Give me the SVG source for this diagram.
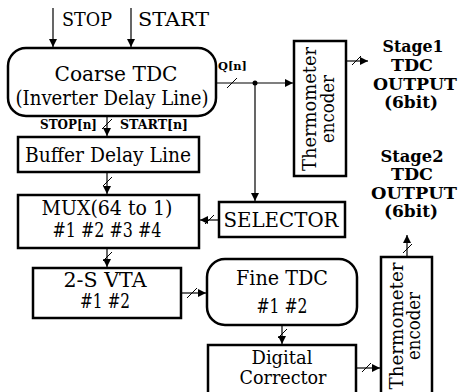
<svg xmlns="http://www.w3.org/2000/svg" width="462" height="392" viewBox="0 0 462 392">
<style>
.box{fill:#fff;stroke:#000;stroke-width:2.5}
.ln{stroke:#000;stroke-width:1.2;fill:none}
.sl{stroke:#000;stroke-width:1;fill:none}
</style>
<defs>
<marker id="ah" viewBox="0 0 10 10" refX="10" refY="5" markerWidth="8" markerHeight="8" markerUnits="userSpaceOnUse" orient="auto">
<path d="M0,0 L10,5 L0,10 Z" fill="#000"/>
</marker>
</defs>
<rect width="462" height="392" fill="#fff"/>
<g id="connectors">
<line class="ln" x1="53" y1="8" x2="53" y2="47" marker-end="url(#ah)"/>
<line class="ln" x1="131" y1="8" x2="131" y2="47" marker-end="url(#ah)"/>
<line class="ln" x1="107" y1="116" x2="107" y2="136" marker-end="url(#ah)"/>
<line class="sl" x1="102" y1="129" x2="112" y2="119"/>
<line class="ln" x1="107" y1="172" x2="107" y2="194" marker-end="url(#ah)"/>
<line class="sl" x1="103" y1="186" x2="112" y2="177"/>
<line class="ln" x1="107" y1="248" x2="107" y2="267" marker-end="url(#ah)"/>
<line class="sl" x1="103" y1="261" x2="112" y2="252"/>
<line class="ln" x1="216" y1="83" x2="293" y2="83" marker-end="url(#ah)"/>
<line class="sl" x1="227" y1="88" x2="237" y2="78"/>
<circle cx="255" cy="83" r="2.5" fill="#000"/>
<line class="ln" x1="255" y1="83" x2="255" y2="201" marker-end="url(#ah)"/>
<line class="ln" x1="219" y1="220" x2="200" y2="220" marker-end="url(#ah)"/>
<line class="sl" x1="205" y1="224" x2="214" y2="215"/>
<line class="ln" x1="346" y1="61" x2="368" y2="61" marker-end="url(#ah)"/>
<line class="sl" x1="352" y1="65" x2="361" y2="56"/>
<line class="ln" x1="181" y1="293" x2="206" y2="293" marker-end="url(#ah)"/>
<line class="sl" x1="187" y1="298" x2="197" y2="288"/>
<line class="ln" x1="282" y1="325" x2="282" y2="344" marker-end="url(#ah)"/>
<line class="sl" x1="278" y1="338" x2="287" y2="329"/>
<line class="ln" x1="356" y1="368" x2="380" y2="368" marker-end="url(#ah)"/>
<line class="sl" x1="362" y1="372" x2="371" y2="363"/>
<line class="ln" x1="407" y1="257" x2="407" y2="235" marker-end="url(#ah)"/>
<line class="sl" x1="403" y1="253" x2="412" y2="244"/>
</g>
<g id="inputs" font-family="'DejaVu Serif', serif" font-size="19">
<text x="62" y="26" textLength="50" lengthAdjust="spacingAndGlyphs">STOP</text>
<text x="138" y="26" textLength="71" lengthAdjust="spacingAndGlyphs">START</text>
</g>
<g id="coarse-tdc" font-family="'DejaVu Serif', serif" font-size="21" text-anchor="middle">
<rect class="box" x="8" y="48" width="208" height="68" rx="18"/>
<text x="116" y="81" textLength="123" lengthAdjust="spacingAndGlyphs">Coarse TDC</text>
<text x="112" y="105" textLength="193" lengthAdjust="spacingAndGlyphs">(Inverter Delay Line)</text>
</g>
<g id="labels" font-family="'DejaVu Serif', serif" font-weight="bold">
<text x="218" y="70" font-size="11" textLength="29" lengthAdjust="spacingAndGlyphs">Q[n]</text>
<text x="40" y="129" font-size="12" textLength="57" lengthAdjust="spacingAndGlyphs">STOP[n]</text>
<text x="120" y="129" font-size="12" textLength="68" lengthAdjust="spacingAndGlyphs">START[n]</text>
</g>
<g id="buffer" font-family="'DejaVu Serif', serif" font-size="20" text-anchor="middle">
<rect class="box" x="18" y="137" width="181" height="35"/>
<text x="108" y="162" textLength="166" lengthAdjust="spacingAndGlyphs">Buffer Delay Line</text>
</g>
<g id="mux" font-family="'DejaVu Serif', serif" font-size="20" text-anchor="middle">
<rect class="box" x="18" y="195" width="181" height="53"/>
<text x="107" y="215" textLength="131" lengthAdjust="spacingAndGlyphs">MUX(64 to 1)</text>
<text x="107" y="237" textLength="109" lengthAdjust="spacingAndGlyphs">#1 #2 #3 #4</text>
</g>
<g id="selector" font-family="'DejaVu Serif', serif" font-size="20" text-anchor="middle">
<rect class="box" x="219" y="202" width="126" height="35"/>
<text x="281" y="227" textLength="115" lengthAdjust="spacingAndGlyphs">SELECTOR</text>
</g>
<g id="vta" font-family="'DejaVu Serif', serif" font-size="20" text-anchor="middle">
<rect class="box" x="33" y="268" width="148" height="50"/>
<text x="105" y="287" textLength="83" lengthAdjust="spacingAndGlyphs">2-S VTA</text>
<text x="105" y="308" textLength="50" lengthAdjust="spacingAndGlyphs">#1 #2</text>
</g>
<g id="fine-tdc" font-family="'DejaVu Serif', serif" font-size="20" text-anchor="middle">
<rect class="box" x="207" y="259" width="150" height="66" rx="18"/>
<text x="282" y="285" textLength="92" lengthAdjust="spacingAndGlyphs">Fine TDC</text>
<text x="282" y="313" textLength="51" lengthAdjust="spacingAndGlyphs">#1 #2</text>
</g>
<g id="digital-corrector" font-family="'DejaVu Serif', serif" font-size="19" text-anchor="middle">
<rect class="box" x="208" y="345" width="148" height="60"/>
<text x="282" y="364" textLength="61" lengthAdjust="spacingAndGlyphs">Digital</text>
<text x="283" y="384" textLength="87" lengthAdjust="spacingAndGlyphs">Corrector</text>
</g>
<g id="thermo1" font-family="'DejaVu Serif', serif" font-size="19" text-anchor="middle">
<rect class="box" x="294" y="41" width="52" height="135"/>
<text transform="translate(316,109) rotate(-90)" textLength="124" lengthAdjust="spacingAndGlyphs">Thermometer</text>
<text transform="translate(334,109) rotate(-90)" textLength="68" lengthAdjust="spacingAndGlyphs">encoder</text>
</g>
<g id="thermo2" font-family="'DejaVu Serif', serif" font-size="19" text-anchor="middle">
<rect class="box" x="381" y="257" width="51" height="150"/>
<text transform="translate(403,326) rotate(-90)" textLength="127" lengthAdjust="spacingAndGlyphs">Thermometer</text>
<text transform="translate(420,326) rotate(-90)" textLength="68" lengthAdjust="spacingAndGlyphs">encoder</text>
</g>
<g id="stage1-output" font-family="'DejaVu Serif', serif" font-weight="bold" font-size="17" text-anchor="middle">
<text x="413" y="52" textLength="61" lengthAdjust="spacingAndGlyphs">Stage1</text>
<text x="412" y="71" textLength="42" lengthAdjust="spacingAndGlyphs">TDC</text>
<text x="415" y="90" textLength="84" lengthAdjust="spacingAndGlyphs">OUTPUT</text>
<text x="411" y="108" textLength="54" lengthAdjust="spacingAndGlyphs">(6bit)</text>
</g>
<g id="stage2-output" font-family="'DejaVu Serif', serif" font-weight="bold" font-size="17" text-anchor="middle">
<text x="412" y="162" textLength="63" lengthAdjust="spacingAndGlyphs">Stage2</text>
<text x="412" y="180" textLength="42" lengthAdjust="spacingAndGlyphs">TDC</text>
<text x="414" y="199" textLength="86" lengthAdjust="spacingAndGlyphs">OUTPUT</text>
<text x="411" y="217" textLength="54" lengthAdjust="spacingAndGlyphs">(6bit)</text>
</g>
</svg>
